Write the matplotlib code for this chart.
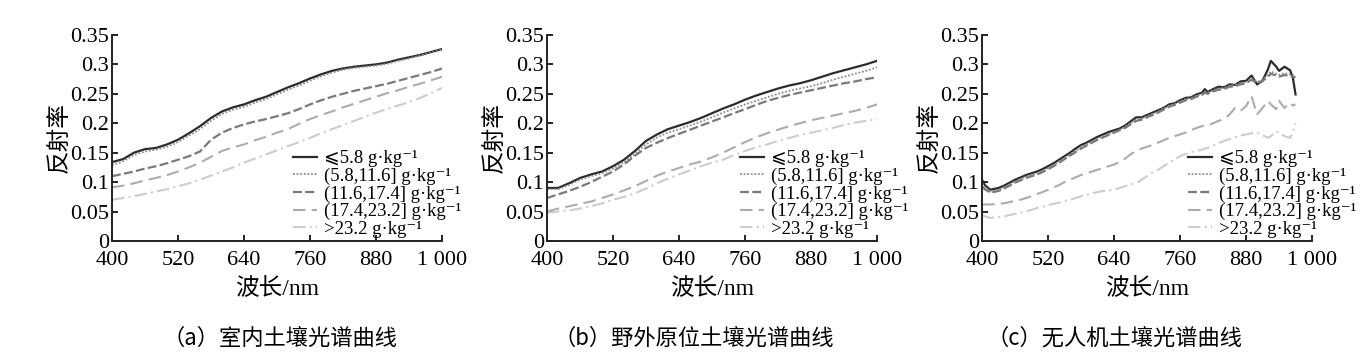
import numpy as np
import matplotlib
matplotlib.use("Agg")
import matplotlib.pyplot as plt

plt.rcParams['font.family'] = ['Liberation Serif', 'Noto Sans CJK SC', 'DejaVu Sans']

# ---- data ----
labels = ['⩽5.8 g·kg⁻¹', '(5.8,11.6] g·kg⁻¹', '(11.6,17.4] g·kg⁻¹',
          '(17.4,23.2] g·kg⁻¹', '>23.2 g·kg⁻¹']

wl_ab = [400, 420, 440, 460, 480, 500, 520, 540, 560, 580, 600, 620, 640, 660, 680, 700,
         720, 740, 760, 780, 800, 820, 840, 860, 880, 900, 920, 940, 960, 980, 1000]

# (a) indoor
a_s1 = [0.134, 0.139, 0.150, 0.156, 0.158, 0.164, 0.172, 0.183, 0.195, 0.209, 0.220, 0.227, 0.232, 0.239, 0.245, 0.253,
        0.261, 0.268, 0.276, 0.283, 0.289, 0.293, 0.296, 0.298, 0.300, 0.303, 0.308, 0.312, 0.316, 0.321, 0.326]
a_s2 = [0.129, 0.135, 0.146, 0.152, 0.155, 0.160, 0.168, 0.179, 0.190, 0.204, 0.216, 0.223, 0.228, 0.235, 0.241, 0.249,
        0.257, 0.264, 0.272, 0.280, 0.286, 0.291, 0.294, 0.296, 0.298, 0.301, 0.306, 0.310, 0.315, 0.320, 0.325]
a_s3 = [0.110, 0.114, 0.118, 0.123, 0.127, 0.132, 0.138, 0.144, 0.152, 0.172, 0.184, 0.192, 0.198, 0.203, 0.207, 0.212,
        0.217, 0.224, 0.232, 0.239, 0.245, 0.250, 0.255, 0.259, 0.263, 0.267, 0.272, 0.277, 0.282, 0.287, 0.293]
a_s4 = [0.091, 0.094, 0.098, 0.103, 0.107, 0.112, 0.118, 0.125, 0.133, 0.143, 0.153, 0.159, 0.164, 0.171, 0.177, 0.184,
        0.190, 0.199, 0.207, 0.214, 0.220, 0.227, 0.233, 0.239, 0.245, 0.251, 0.256, 0.262, 0.267, 0.273, 0.279]
a_s5 = [0.070, 0.073, 0.076, 0.080, 0.084, 0.088, 0.093, 0.098, 0.104, 0.111, 0.118, 0.125, 0.133, 0.140, 0.147, 0.154,
        0.161, 0.168, 0.175, 0.183, 0.190, 0.197, 0.204, 0.211, 0.218, 0.224, 0.230, 0.236, 0.243, 0.251, 0.260]

# (b) field in situ
b_s1 = [0.090, 0.090, 0.098, 0.107, 0.113, 0.118, 0.127, 0.138, 0.153, 0.170, 0.181, 0.190, 0.196, 0.202, 0.209, 0.217,
        0.225, 0.232, 0.240, 0.247, 0.253, 0.259, 0.264, 0.268, 0.273, 0.279, 0.285, 0.290, 0.295, 0.300, 0.306]
b_s2 = [0.088, 0.088, 0.095, 0.104, 0.110, 0.115, 0.123, 0.134, 0.148, 0.164, 0.176, 0.184, 0.190, 0.196, 0.203, 0.210,
        0.218, 0.225, 0.232, 0.238, 0.244, 0.250, 0.255, 0.259, 0.263, 0.268, 0.274, 0.279, 0.284, 0.289, 0.295]
b_s3 = [0.073, 0.079, 0.085, 0.092, 0.100, 0.109, 0.118, 0.130, 0.145, 0.158, 0.167, 0.175, 0.182, 0.189, 0.196, 0.203,
        0.210, 0.217, 0.224, 0.231, 0.238, 0.243, 0.248, 0.252, 0.256, 0.260, 0.264, 0.268, 0.271, 0.275, 0.278]
b_s4 = [0.050, 0.055, 0.059, 0.063, 0.067, 0.073, 0.079, 0.086, 0.093, 0.102, 0.111, 0.118, 0.124, 0.130, 0.135, 0.142,
        0.150, 0.159, 0.168, 0.176, 0.183, 0.189, 0.195, 0.200, 0.205, 0.209, 0.213, 0.217, 0.221, 0.226, 0.232]
b_s5 = [0.048, 0.050, 0.052, 0.055, 0.059, 0.064, 0.070, 0.075, 0.081, 0.089, 0.098, 0.106, 0.113, 0.120, 0.127, 0.133,
        0.138, 0.146, 0.153, 0.159, 0.164, 0.170, 0.175, 0.180, 0.184, 0.188, 0.192, 0.197, 0.201, 0.204, 0.207]

# (c) UAV
wl_c = [400, 405, 415, 430, 440, 450, 460, 470, 480, 490, 500, 510, 520, 530, 540, 550, 560, 570, 580, 590,
        600, 610, 620, 630, 640, 650, 660, 670, 680, 690, 700, 710, 720, 730, 740, 750, 760, 770, 780, 790,
        800, 805, 810, 820, 830, 840, 850, 860, 870, 880, 890, 900, 910, 920, 925, 935, 940, 950, 960, 965, 970]
c_s1 = [0.104, 0.095, 0.087, 0.090, 0.094, 0.099, 0.104, 0.108, 0.112, 0.115, 0.118, 0.122, 0.127, 0.132, 0.138, 0.144,
        0.150, 0.157, 0.163, 0.167, 0.172, 0.177, 0.181, 0.185, 0.188, 0.191, 0.196, 0.203, 0.210, 0.210, 0.214,
        0.218, 0.222, 0.226, 0.232, 0.234, 0.239, 0.243, 0.244, 0.249, 0.252, 0.258, 0.253, 0.258, 0.262, 0.261,
        0.266, 0.265, 0.271, 0.272, 0.281, 0.266, 0.272, 0.292, 0.306, 0.296, 0.289, 0.296, 0.290, 0.278, 0.249]
c_s2 = [0.098, 0.092, 0.084, 0.087, 0.091, 0.096, 0.101, 0.105, 0.109, 0.112, 0.115, 0.119, 0.124, 0.129, 0.135, 0.141,
        0.147, 0.153, 0.159, 0.164, 0.169, 0.174, 0.178, 0.182, 0.185, 0.189, 0.194, 0.200, 0.206, 0.208, 0.212,
        0.216, 0.220, 0.225, 0.230, 0.233, 0.237, 0.241, 0.243, 0.247, 0.250, 0.254, 0.252, 0.256, 0.259, 0.260,
        0.264, 0.265, 0.268, 0.270, 0.276, 0.270, 0.274, 0.282, 0.288, 0.284, 0.282, 0.285, 0.283, 0.281, 0.280]
c_s3 = [0.092, 0.088, 0.082, 0.085, 0.089, 0.094, 0.099, 0.103, 0.107, 0.110, 0.113, 0.117, 0.122, 0.127, 0.133, 0.139,
        0.145, 0.151, 0.157, 0.162, 0.167, 0.172, 0.176, 0.180, 0.184, 0.188, 0.192, 0.198, 0.204, 0.206, 0.210,
        0.214, 0.218, 0.223, 0.228, 0.231, 0.235, 0.239, 0.241, 0.245, 0.248, 0.252, 0.250, 0.254, 0.257, 0.258,
        0.262, 0.263, 0.266, 0.268, 0.274, 0.268, 0.272, 0.279, 0.284, 0.281, 0.279, 0.282, 0.280, 0.279, 0.278]
c_s4 = [0.062, 0.062, 0.062, 0.063, 0.064, 0.066, 0.068, 0.070, 0.073, 0.076, 0.080, 0.083, 0.087, 0.091, 0.095, 0.100,
        0.104, 0.108, 0.112, 0.115, 0.118, 0.121, 0.124, 0.127, 0.130, 0.134, 0.140, 0.147, 0.153, 0.157, 0.160,
        0.163, 0.167, 0.171, 0.175, 0.178, 0.181, 0.184, 0.188, 0.192, 0.195, 0.197, 0.196, 0.200, 0.204, 0.207,
        0.215, 0.226, 0.221, 0.229, 0.246, 0.215, 0.226, 0.238, 0.232, 0.224, 0.238, 0.226, 0.235, 0.230, 0.232]
c_s5 = [0.044, 0.042, 0.039, 0.041, 0.042, 0.044, 0.046, 0.048, 0.050, 0.053, 0.056, 0.058, 0.061, 0.063, 0.065, 0.068,
        0.070, 0.073, 0.076, 0.078, 0.081, 0.083, 0.085, 0.086, 0.087, 0.090, 0.093, 0.096, 0.098, 0.104, 0.110,
        0.116, 0.121, 0.127, 0.133, 0.139, 0.144, 0.148, 0.151, 0.153, 0.155, 0.157, 0.158, 0.162, 0.166, 0.170,
        0.173, 0.176, 0.179, 0.181, 0.183, 0.184, 0.180, 0.175, 0.178, 0.186, 0.184, 0.178, 0.175, 0.185, 0.200]

captions = ['（a）室内土壤光谱曲线', '（b）野外原位土壤光谱曲线', '（c）无人机土壤光谱曲线']
panels = [
    (wl_ab, [a_s1, a_s2, a_s3, a_s4, a_s5]),
    (wl_ab, [b_s1, b_s2, b_s3, b_s4, b_s5]),
    (wl_c, [c_s1, c_s2, c_s3, c_s4, c_s5]),
]

colors = ['#2b2b2b', '#8c8c8c', '#7a7a7a', '#acacac', '#cdcdcd']
styles = ['-', (0, (1, 1)), (0, (4, 1.5)), (0, (6, 3)), (0, (6, 2, 1, 2))]
widths = [1.6, 1.3, 1.6, 1.5, 1.5]

fig = plt.figure(figsize=(13.71, 3.64), dpi=100)
lefts = [0.0817, 0.399, 0.7163]
leg_x = [0.548, 0.585, 0.624]
cap_x = [280 / 1371, 694 / 1371, 1115 / 1371]

for k, (wl, series) in enumerate(panels):
    ax = fig.add_axes([lefts[k], 0.338, 0.2407, 0.566])
    for s, lab, c, ls, lw in zip(series, labels, colors, styles, widths):
        ax.plot(wl, s, color=c, linestyle=ls, linewidth=lw, label=lab)
    ax.set_xlim(400, 1000)
    ax.set_ylim(0, 0.35)
    ax.set_xticks([400, 520, 640, 760, 880, 1000])
    ax.set_xticklabels(['400', '520', '640', '760', '880', '1 000'])
    ax.set_yticks([0, 0.05, 0.1, 0.15, 0.2, 0.25, 0.3, 0.35])
    ax.set_yticklabels(['0', '0.05', '0.1', '0.15', '0.2', '0.25', '0.3', '0.35'])
    ax.tick_params(direction='in', length=4, width=1.2, labelsize=16)
    ax.tick_params(axis='x', pad=7)
    ax.tick_params(axis='y', pad=2)
    for sp in ['top', 'right']:
        ax.spines[sp].set_visible(False)
    for sp in ['left', 'bottom']:
        ax.spines[sp].set_linewidth(1.4)
        ax.spines[sp].set_color('#222222')
    ax.set_xlabel('波长/nm', fontsize=17, labelpad=6)
    ax.set_ylabel('反射率', fontsize=17, labelpad=0)
    ax.legend(loc='lower left', bbox_to_anchor=(leg_x[k], 0.015), frameon=False, fontsize=13.5,
              handlelength=1.3, handletextpad=0.35, labelspacing=0.02, borderpad=0, borderaxespad=0)
    fig.text(cap_x[k], 1 - 338 / 364, captions[k], ha='center', va='center', fontsize=16,
             family=['Noto Sans CJK SC', 'DejaVu Sans'])

fig.savefig('out.png', dpi=100)
